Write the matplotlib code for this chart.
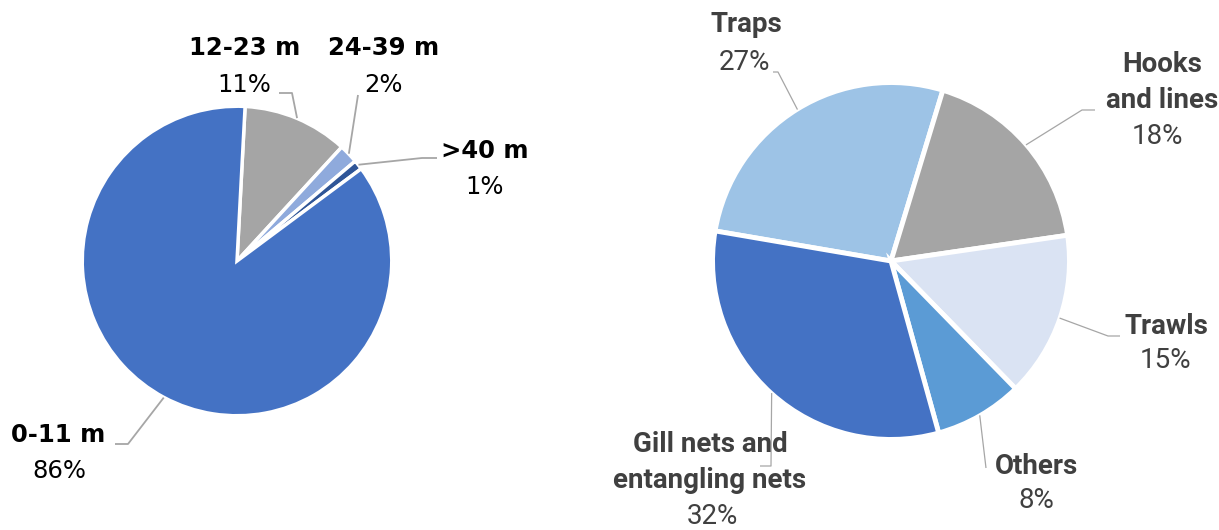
import numpy as np
import matplotlib
matplotlib.use("Agg")
import matplotlib.pyplot as plt

# vessel length shares (left pie)
length_labels = ["12-23 m", "24-39 m", ">40 m", "0-11 m"]
length_values = [11, 2, 1, 86]
length_colors = ["#A5A5A5", "#8FAADC", "#2F5597", "#4472C4"]

# fishing gear shares (right pie)
gear_labels = ["Traps", "Hooks\nand lines", "Trawls", "Others", "Gill nets and\nentangling nets"]
gear_values = [27, 18, 15, 8, 32]
gear_colors = ["#9DC3E6", "#A5A5A5", "#DAE3F3", "#5B9BD5", "#4472C4"]

W, H = 1219, 530
fig = plt.figure(figsize=(W / 100, H / 100), dpi=100)
ax = fig.add_axes([0, 0, 1, 1])


def py(y):
    # pixel row from top -> data y
    return H - y


def draw_pie(values, colors, center, r, start, lw):
    wedges, _ = ax.pie(values, colors=colors, startangle=start, counterclock=False,
                       center=center, radius=r,
                       wedgeprops=dict(edgecolor="white", linewidth=lw))
    return wedges


left_c = (237, py(261))
right_c = (891, py(261))
lw_left = 2.5
lw_right = 3.5
w_left = draw_pie(length_values, length_colors, left_c, 153 + lw_left * 0.7, 87, lw_left)
w_right = draw_pie(gear_values, gear_colors, right_c, 176 + lw_right * 0.7, 170.3, lw_right)


def mid_point(w, c, r):
    a = np.deg2rad((w.theta1 + w.theta2) / 2)
    return c[0] + r * np.cos(a), c[1] + r * np.sin(a)


# label layout (pixel positions): name center, pct center, leader path after edge point
left_layout = {
    "12-23 m": ((245, 48), (244, 85), [(292, 93), (279, 93)]),
    "24-39 m": ((384, 48), (384, 85), [(358, 95)]),
    ">40 m": ((485, 151), (485, 187), [(422, 158), (437, 158)]),
    "0-11 m": ((58, 435), (59, 471), [(128, 444), (115, 444)]),
}
right_layout = {
    "Traps": ((746, 24), (745, 62), [(778, 72), (773, 72)]),
    "Hooks\nand lines": ((1162, 65), (1157, 137), [(1082, 110), (1095, 110)]),
    "Trawls": ((1166, 326), (1166, 361), [(1108, 336), (1120, 336)]),
    "Others": ((1037, 466), (1036, 501), [(986, 468)]),
    "Gill nets and\nentangling nets": ((710, 445), (712, 517), [(771, 466), (760, 466)]),
}


def draw_labels(labels, values, wedges, c, r, layout, family, color, size, lcolor, llw):
    for lab, val, w in zip(labels, values, wedges):
        name_pos, pct_pos, path = layout[lab]
        x0, y0 = mid_point(w, c, r + 2)
        xs = [x0] + [p[0] for p in path]
        ys = [y0] + [py(p[1]) for p in path]
        ax.plot(xs, ys, color=lcolor, lw=llw, solid_capstyle="butt", zorder=1)
        for i, line in enumerate(lab.split("\n")):
            ax.text(name_pos[0], py(name_pos[1] + 36 * i), line, ha="center", va="center",
                    fontsize=size, fontweight="bold", family=family, color=color)
        ax.text(pct_pos[0], py(pct_pos[1]), f"{val}%", ha="center", va="center",
                fontsize=size, family=family, color=color)


draw_labels(length_labels, length_values, w_left, left_c, 153, left_layout,
            "DejaVu Sans", "black", 17.5, "#A6A6A6", 1.3)
draw_labels(gear_labels, gear_values, w_right, right_c, 176, right_layout,
            "Roboto", "#404040", 20, "#A6A6A6", 0.9)

ax.set_xlim(0, W)
ax.set_ylim(0, H)
ax.set_aspect("equal")
ax.axis("off")

fig.savefig("out.png", dpi=100)
